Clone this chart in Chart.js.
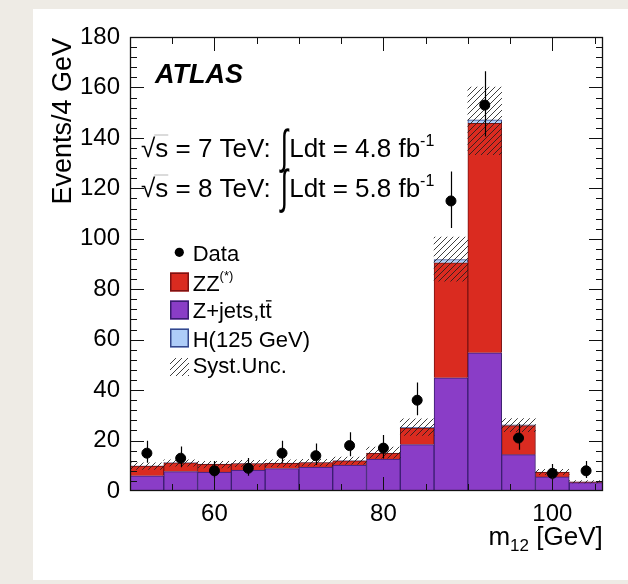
<!DOCTYPE html>
<html>
<head>
<meta charset="utf-8">
<script src="https://cdn.jsdelivr.net/npm/chart.js@4.4.1/dist/chart.umd.min.js"></script>
<style>
body{margin:0;background:#eeebe5;}
#panel{position:absolute;left:33px;top:9px;width:595px;height:571px;background:#fff;}
canvas{display:block;}
</style>
</head>
<body>
<div id="panel"><canvas id="c" width="595" height="571"></canvas></div>
<script>
// bins of 4 GeV, centres
var binCenters = [52, 56, 60, 64, 68, 72, 76, 80, 84, 88, 92, 96, 100, 104];
var zjets  = [6.0, 7.7, 7.5, 8.3, 8.9, 9.5, 10.3, 12.7, 18.4, 44.9, 54.8, 14.4, 5.6, 3.3];
var zz     = [3.9, 3.5, 3.1, 2.6, 2.1, 1.8, 1.7, 2.2, 6.5, 45.6, 91.0, 11.5, 1.8, 0.3];
var higgs  = [0.05, 0.05, 0.05, 0.05, 0.05, 0.05, 0.1, 0.1, 0.3, 1.3, 1.4, 0.3, 0.1, 0.05];
var uncLo  = [8.6, 9.8, 9.2, 9.6, 9.6, 9.9, 10.6, 13.0, 22.0, 83.2, 133.3, 23.5, 6.5, 3.2];
var uncHi  = [11.2, 12.4, 11.8, 12.2, 12.4, 12.6, 13.4, 17.4, 28.6, 100.7, 160.1, 28.7, 8.6, 4.1];
var dataVals = [15, 13, 8, 9, 15, 14, 18, 17, 36, 115, 153, 21, 7, 8];
var errHi  = [4.9, 4.6, 3.9, 4.1, 4.9, 4.8, 5.3, 5.2, 7.0, 11.7, 13.4, 5.7, 3.7, 3.9];
var errLo  = [3.8, 3.6, 2.8, 3.0, 3.8, 3.7, 4.2, 4.1, 6.0, 10.7, 12.4, 4.6, 2.6, 2.8];

var xTickVals  = [60, 80, 100];
var xMinorVals = [55, 60, 65, 70, 75, 80, 85, 90, 95, 100, 105];
var yTickVals  = [0, 20, 40, 60, 80, 100, 120, 140, 160, 180];
var yMinorVals = [4, 8, 12, 16, 20, 24, 28, 32, 36, 40, 44, 48, 52, 56, 60, 64, 68, 72, 76, 80, 84, 88, 92, 96, 100,
                  104, 108, 112, 116, 120, 124, 128, 132, 136, 140, 144, 148, 152, 156, 160, 164, 168, 172, 176];

var RED = '#da2b20', RED_B = '#7d1212';
var PURPLE = '#8a3dc7', PURPLE_B = '#3a1d70';
var BLUE = '#aecdf8', BLUE_B = '#34478c';
var FONT = '"Liberation Sans", Arial, Helvetica, sans-serif';

function hatch(color){
  var p = document.createElement('canvas'); p.width = 6; p.height = 6;
  var g = p.getContext('2d'); g.strokeStyle = color; g.lineWidth = 1;
  g.beginPath();
  g.moveTo(0,6); g.lineTo(6,0);
  g.moveTo(-1,1); g.lineTo(1,-1);
  g.moveTo(5,7); g.lineTo(7,5);
  g.stroke();
  return g.createPattern(p, 'repeat');
}
var hatchFill = hatch('rgba(30,30,30,0.85)');

function pts(arr){ return binCenters.map(function(x,i){ return {x:x, y:arr[i]}; }); }

// draw a run of text pieces, returns end x
function runs(ctx, x, y, parts, measureOnly){
  var cx = x;
  parts.forEach(function(p){
    ctx.font = p.f;
    if(!measureOnly){
      if(p.sy){
        ctx.save(); ctx.translate(cx, y + (p.dy||0)); ctx.scale(1, p.sy);
        ctx.fillText(p.t, 0, 0); ctx.restore();
      } else ctx.fillText(p.t, cx, y + (p.dy||0));
    }
    cx += ctx.measureText(p.t).width + (p.gap||0);
  });
  return cx;
}

var decor = {
  id: 'decor',
  afterDatasetsDraw: function(chart){
    var c = chart.ctx, x = chart.scales.x, y = chart.scales.y;
    // error bars
    c.save(); c.strokeStyle = '#000'; c.lineWidth = 1.2;
    c.beginPath();
    binCenters.forEach(function(v,i){
      var px = Math.round(x.getPixelForValue(v)) + 0.5;
      c.moveTo(px, y.getPixelForValue(dataVals[i] + errHi[i]));
      c.lineTo(px, y.getPixelForValue(dataVals[i] - errLo[i]));
    });
    c.stroke(); c.restore();
  },
  afterDraw: function(chart){
    var c = chart.ctx, a = chart.chartArea, x = chart.scales.x, y = chart.scales.y;
    c.save();
    c.strokeStyle = '#111'; c.lineWidth = 1;
    c.beginPath();
    xMinorVals.forEach(function(v){
      var px = Math.round(x.getPixelForValue(v)) + 0.5;
      var L = xTickVals.indexOf(v) >= 0 ? 14 : 7;
      c.moveTo(px, a.bottom); c.lineTo(px, a.bottom - L);
      c.moveTo(px, a.top); c.lineTo(px, a.top + L);
    });
    yMinorVals.forEach(function(v){
      var py = Math.round(y.getPixelForValue(v)) + 0.5;
      var L = yTickVals.indexOf(v) >= 0 ? 14 : 7;
      c.moveTo(a.left, py); c.lineTo(a.left + L, py);
      c.moveTo(a.right, py); c.lineTo(a.right - L, py);
    });
    c.stroke();
    c.lineWidth = 1.3;
    c.strokeRect(a.left + 0.5, a.top + 0.5, a.right - a.left - 1, a.bottom - a.top - 1);

    c.fillStyle = '#000';
    c.textAlign = 'left'; c.textBaseline = 'alphabetic';
    // ATLAS
    c.font = 'italic bold 27px ' + FONT;
    c.fillText('ATLAS', 122, 74);
    // luminosity lines
    [['7', '4.8', 147.5], ['8', '5.8', 187.5]].forEach(function(l){
      var x0 = 108, by = l[2];
      var f = '26px ' + FONT;
      c.font = f;
      var sq = c.measureText('\u221A').width;
      var sw = c.measureText('s').width;
      c.fillText('\u221A', x0, by);
      c.save(); c.strokeStyle = '#999'; c.lineWidth = 0.7;
      c.beginPath(); c.moveTo(x0 + sq - 1, by - 21.5); c.lineTo(x0 + sq + sw, by - 21.5); c.stroke(); c.restore();
      runs(c, x0 + sq, by, [
        {t: 's = ' + l[0] + ' TeV: ', f: f, gap: 3},
        {t: '\u222B', f: '27px ' + FONT, dy: 6, sy: 1.75, gap: 1},
        {t: 'Ldt = ' + l[1] + ' fb', f: f},
        {t: '-1', f: '16px ' + FONT, dy: -11}
      ]);
    });
    // legend
    var lx = 159.7;
    c.font = '22px ' + FONT;
    c.beginPath(); c.arc(146.3, 243.3, 4.6, 0, Math.PI*2); c.fill();
    c.fillText('Data', lx, 251.7);
    function box(yTop, fill, stroke){
      c.fillStyle = fill; c.fillRect(137, yTop, 19, 19);
      c.strokeStyle = stroke; c.lineWidth = 1.5; c.strokeRect(137.75, yTop + 0.75, 17.5, 17.5);
      c.fillStyle = '#000';
    }
    box(263.5, RED, RED_B);
    runs(c, lx, 281.7, [{t:'ZZ', f:'22px ' + FONT}, {t:'(*)', f:'13px ' + FONT, dy:-11}]);
    box(291.5, PURPLE, PURPLE_B);
    c.font = '22px ' + FONT;
    var zw = c.measureText('Z+jets,t').width, tw = c.measureText('t').width;
    c.fillText('Z+jets,tt', lx, 309.3);
    c.fillRect(lx + zw + 0.5, 291.2, tw - 0.5, 1.3);
    box(319.5, BLUE, BLUE_B);
    c.fillText('H(125 GeV)', lx, 337.7);
    c.fillStyle = hatchFill; c.fillRect(137, 349, 19, 18);
    c.fillStyle = '#000';
    c.fillText('Syst.Unc.', lx, 364.3);
    // axis titles
    c.save();
    c.translate(38, 29); c.rotate(-Math.PI/2);
    c.textAlign = 'right'; c.font = '27px ' + FONT;
    c.fillText('Events/4 GeV', 0, 0);
    c.restore();
    var xt = [{t:'m', f:'26px ' + FONT}, {t:'12', f:'17px ' + FONT, dy:6}, {t:' [GeV]', f:'26px ' + FONT}];
    var w = runs(c, 0, 0, xt, true);
    runs(c, 569.7 - w, 536, xt);
    c.restore();
  }
};

new Chart(document.getElementById('c'), {
  type: 'bar',
  data: {
    datasets: [
      { type: 'line', label: 'Data', data: pts(dataVals), stack: 'd', showLine: false,
        pointRadius: 5, pointHoverRadius: 5, pointBackgroundColor: '#000', pointBorderColor: '#000', borderColor: '#000' },
      { label: 'Syst.Unc.', data: binCenters.map(function(x,i){ return {x:x, y:[uncLo[i], uncHi[i]]}; }),
        stack: 'unc', backgroundColor: hatchFill, borderWidth: 0, grouped: false,
        barPercentage: 1, categoryPercentage: 1 },
      { label: 'Z+jets,tt', data: pts(zjets), stack: 'mc', backgroundColor: PURPLE, borderColor: PURPLE_B,
        borderWidth: 1, grouped: false, barPercentage: 1, categoryPercentage: 1 },
      { label: 'ZZ(*)', data: pts(zz), stack: 'mc', backgroundColor: RED, borderColor: RED_B,
        borderWidth: 1, grouped: false, barPercentage: 1, categoryPercentage: 1 },
      { label: 'H(125 GeV)', data: pts(higgs), stack: 'mc', backgroundColor: BLUE, borderColor: BLUE_B,
        borderWidth: 1, grouped: false, barPercentage: 1, categoryPercentage: 1 }
    ]
  },
  options: {
    responsive: false,
    animation: false,
    layout: { padding: { left: 0, top: 28, right: 25, bottom: 0 } },
    plugins: { legend: { display: false }, tooltip: { enabled: false } },
    scales: {
      x: {
        type: 'linear', min: 50, max: 106, offset: false,
        grid: { display: false, drawTicks: false, offset: false },
        border: { display: false },
        ticks: { font: { size: 24, family: FONT }, color: '#000', padding: 9 },
        afterBuildTicks: function(s){ s.ticks = xTickVals.map(function(v){ return {value:v}; }); },
        afterFit: function(s){ s.height = 89; }
      },
      y: {
        stacked: true, min: 0, max: 180,
        grid: { display: false, drawTicks: false },
        border: { display: false },
        ticks: { font: { size: 24, family: FONT }, color: '#000', padding: 10 },
        afterBuildTicks: function(s){ s.ticks = yTickVals.map(function(v){ return {value:v}; }); },
        afterFit: function(s){ s.width = 97; }
      }
    }
  },
  plugins: [decor]
});
</script>
</body>
</html>
